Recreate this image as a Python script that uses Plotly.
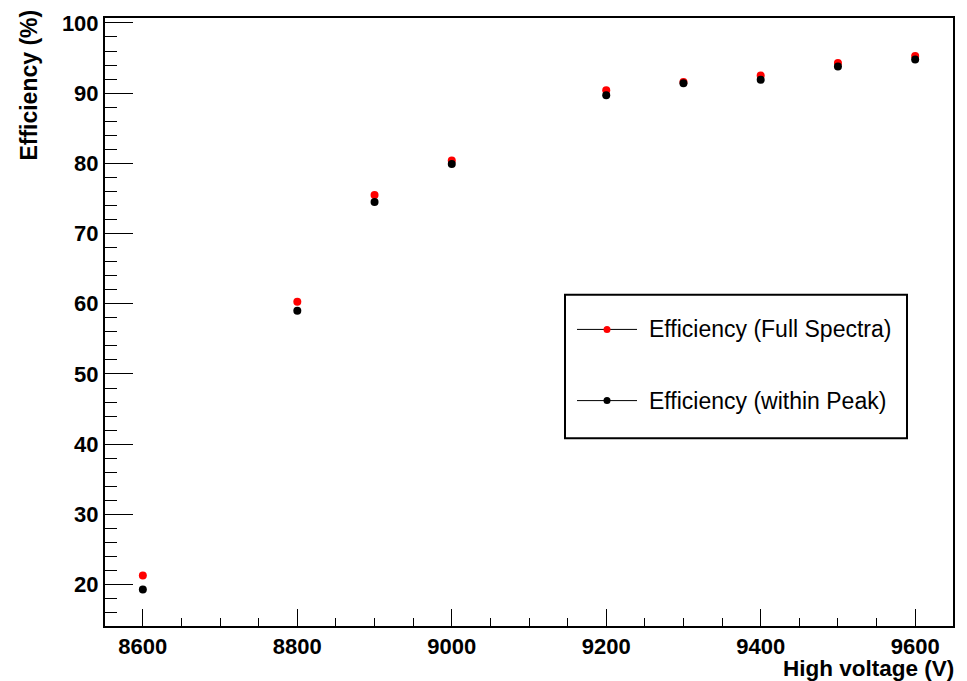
import plotly.graph_objects as go

voltage = [8600, 8800, 8900, 9000, 9200, 9300, 9400, 9500, 9600]
eff_full = [21.3, 60.3, 75.5, 80.4, 90.4, 91.6, 92.5, 94.3, 95.3]
eff_peak = [19.3, 59.0, 74.5, 79.9, 89.7, 91.4, 91.9, 93.8, 94.8]
x_ticks = [8600, 8800, 9000, 9200, 9400, 9600]
y_ticks = [20, 30, 40, 50, 60, 70, 80, 90, 100]
legend_labels = ["Efficiency (Full Spectra)", "Efficiency (within Peak)"]
series_colors = ["#ff0000", "#000000"]

FONT = "Liberation Sans, Arial, Helvetica, sans-serif"

fig = go.Figure()
for ys, col, name in [(eff_full, series_colors[0], legend_labels[0]),
                      (eff_peak, series_colors[1], legend_labels[1])]:
    fig.add_trace(go.Scatter(x=voltage, y=ys, mode="markers", name=name,
                             marker=dict(color=col, size=8, symbol="circle"),
                             showlegend=False))

axis_common = dict(showgrid=False, zeroline=False, showline=True, linecolor="black",
                   linewidth=2, mirror=True, ticks="inside", tickcolor="black",
                   tickfont=dict(family=FONT, size=22, color="black", weight="bold"))

fig.update_xaxes(range=[8551, 9649], tickvals=x_ticks, ticktext=[str(v) for v in x_ticks],
                 ticklen=17, tickwidth=1,
                 minor=dict(dtick=50, ticklen=8, ticks="inside", tickcolor="black", tickwidth=1),
                 **axis_common)
fig.update_yaxes(range=[14.1, 100.7], tickvals=y_ticks, ticktext=[str(v) for v in y_ticks],
                 ticklen=28, tickwidth=1,
                 minor=dict(dtick=2, ticklen=12, ticks="inside", tickcolor="black", tickwidth=1),
                 **axis_common)

L, R, T, B = 105, 14, 11, 55
W, H = 967, 681
pw, ph = W - L - R, H - T - B

def px(x):
    return (x - L) / pw

def py(y):
    return (H - B - y) / ph

annotations = [
    dict(text="<b>High voltage (V)</b>", xref="paper", yref="paper", x=px(955), y=py(669),
         xanchor="right", yanchor="middle", showarrow=False, borderpad=0,
         font=dict(family=FONT, size=22.5, color="black")),
    dict(text="<b>Efficiency (%)</b>", xref="paper", yref="paper", x=px(29), y=py(1),
         xanchor="center", yanchor="top", textangle=-90, showarrow=False,
         font=dict(family=FONT, size=23, color="black")),
]

shapes = [dict(type="rect", xref="paper", yref="paper", x0=px(565), x1=px(907),
               y0=py(436), y1=py(291), line=dict(color="black", width=2),
               fillcolor="white", layer="above")]

for i, (lab, col) in enumerate(zip(legend_labels, series_colors)):
    yy = [326, 398][i]
    shapes.append(dict(type="line", xref="paper", yref="paper", x0=px(577), x1=px(637),
                       y0=py(yy), y1=py(yy), line=dict(color="black", width=1), layer="above"))
    shapes.append(dict(type="circle", xref="paper", yref="paper", xsizemode="pixel",
                       ysizemode="pixel", xanchor=px(607), yanchor=py(yy),
                       x0=-3.5, x1=3.5, y0=-3.5, y1=3.5, fillcolor=col,
                       line=dict(color=col, width=0), layer="above"))
    annotations.append(dict(text=lab, xref="paper", yref="paper", x=px(647), y=py(yy),
                            xanchor="left", yanchor="middle", showarrow=False,
                            font=dict(family=FONT, size=23, color="black")))

fig.update_layout(width=W, height=H, margin=dict(l=L, r=R, t=T, b=B),
                  paper_bgcolor="white", plot_bgcolor="white",
                  annotations=annotations, shapes=shapes, showlegend=False)

fig.write_html("out.html", config={"displayModeBar": False})

with open("out.html", "r", encoding="utf-8") as f:
    html = f.read()
html = html.replace("<head>", "<head><style>html,body{margin:0;padding:0;overflow:hidden;}</style>", 1)
with open("out.html", "w", encoding="utf-8") as f:
    f.write(html)
